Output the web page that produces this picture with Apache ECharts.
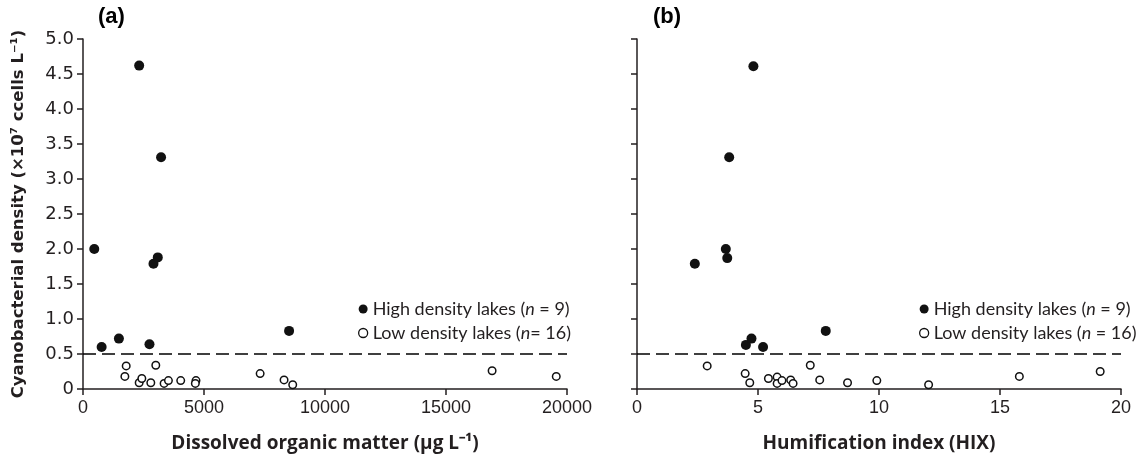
<!DOCTYPE html>
<html>
<head>
<meta charset="utf-8">
<script src="https://cdn.jsdelivr.net/npm/echarts@6/dist/echarts.min.js"></script>
<style>
html,body{margin:0;padding:0;background:#fff;}
#c{width:1142px;height:458px;}
</style>
</head>
<body>
<div id="c"></div>
<script>
// Panel (a): DOM (µg/L) vs density (x10^7 cells/L)
const highDOM = [[466,2.00],[770,0.60],[1483,0.72],[2321,4.62],[2747,0.64],[2912,1.79],[3090,1.88],[3226,3.31],[8516,0.83]];
const lowDOM = [[1785,0.33],[1730,0.18],[3008,0.34],[2321,0.09],[2431,0.15],[2802,0.09],[3351,0.08],[3530,0.12],[4038,0.12],[4669,0.12],[4642,0.08],[7320,0.22],[8308,0.13],[8666,0.06],[16905,0.26],[19556,0.18]];
// Panel (b): HIX vs density
const highHIX = [[2.39,1.79],[3.67,2.00],[3.73,1.87],[3.81,3.31],[4.50,0.63],[4.73,0.72],[4.81,4.61],[5.21,0.60],[7.80,0.83]];
const lowHIX = [[2.90,0.33],[4.47,0.22],[4.66,0.09],[5.43,0.15],[5.79,0.17],[5.79,0.08],[5.99,0.12],[6.35,0.13],[6.45,0.08],[7.16,0.34],[7.55,0.13],[8.70,0.09],[9.91,0.12],[12.05,0.06],[15.80,0.18],[19.14,0.25]];
const threshold = 0.5;
const yTicks = [0,0.5,1.0,1.5,2.0,2.5,3.0,3.5,4.0,4.5,5.0];
const yTickLabels = ['0','0.5','1.0','1.5','2.0','2.5','3.0','3.5','4.0','4.5','5.0'];
const xTicksA = [0,5000,10000,15000,20000];
const xTickLabelsA = ['0','5000','10000','15000','20000'];
const xTicksB = [0,5,10,15,20];
const xTickLabelsB = ['0','5','10','15','20'];
const seriesNames = ['High density lakes','Low density lakes'];
const legendA = {'High density lakes':['High density lakes (','n',' = 9)'],'Low density lakes':['Low density lakes (','n','= 16)']};
const legendB = {'High density lakes':['High density lakes (','n',' = 9)'],'Low density lakes':['Low density lakes (','n',' = 16)']};

const ink = '#231f20';
const chart = echarts.init(document.getElementById('c'));
const axisLine = {show:true, lineStyle:{color:ink, width:1.5}};
const axisTick = {show:true, inside:false, length:6, lineStyle:{color:ink, width:1.5}};
function xLabel(ticks, labels){
  return {color:ink, fontFamily:'Liberation Sans Narrow, Liberation Sans', fontSize:18, margin:10,
    formatter:function(v){ const i = ticks.indexOf(v); return i >= 0 ? labels[i] : ''; }};
}
const rich = {t:{fontFamily:'Lato', fontSize:18, color:ink}, i:{fontFamily:'Lato', fontSize:18, fontStyle:'italic', color:ink}};
function fmt(map){ return function(name){ const p = map[name]; return '{t|'+p[0]+'}{i|'+p[1]+'}{t|'+p[2]+'}'; }; }
const legendData = [
  {name:seriesNames[0], icon:'circle', itemStyle:{color:'#111', borderWidth:0}},
  {name:seriesNames[1], icon:'circle', itemStyle:{color:'#fff', borderColor:'#111', borderWidth:1.3}}
];

const dashLine = {silent:true, symbol:['none','none'], label:{show:false},
  lineStyle:{color:'#000', type:[13,6], width:1.5}, data:[{yAxis:threshold}]};

function highSeries(i, data){
  return {name:seriesNames[0], type:'scatter', xAxisIndex:i, yAxisIndex:i, data:data, symbol:'circle', symbolSize:10,
    itemStyle:{color:'#111', borderColor:'#111', borderWidth:0, opacity:1}, markLine:dashLine, z:3};
}
function lowSeries(i, data){
  return {name:seriesNames[1], type:'scatter', xAxisIndex:i, yAxisIndex:i, data:data, symbol:'circle', symbolSize:7.5,
    itemStyle:{color:'#fff', borderColor:'#111', borderWidth:1.5, opacity:1}, z:2};
}

chart.setOption({
  animation:false,
  backgroundColor:'#fff',
  title:[
    {text:'(a)', left:93, top:1, textStyle:{fontFamily:'Liberation Sans', fontWeight:'bold', fontSize:22, color:'#000'}},
    {text:'(b)', left:648, top:1, textStyle:{fontFamily:'Liberation Sans', fontWeight:'bold', fontSize:22, color:'#000'}}
  ],
  grid:[
    {left:83, top:39, width:484, height:350, containLabel:false, outerBoundsMode:'none'},
    {left:637, top:39, width:484, height:350, containLabel:false, outerBoundsMode:'none'}
  ],
  legend:[
    {orient:'vertical', left:353, top:295, itemGap:6, itemWidth:9, itemHeight:9, data:legendData, formatter:fmt(legendA),
      textStyle:{rich:rich}, selectedMode:false},
    {orient:'vertical', left:914, top:295, itemGap:6, itemWidth:9, itemHeight:9, data:legendData, formatter:fmt(legendB),
      textStyle:{rich:rich}, selectedMode:false}
  ],
  xAxis:[
    {gridIndex:0, type:'value', min:0, max:20000, interval:5000, splitLine:{show:false}, axisLine:axisLine, axisTick:axisTick,
      axisLabel:xLabel(xTicksA, xTickLabelsA), name:'Dissolved organic matter (µg L⁻¹)', nameLocation:'middle', nameGap:45,
      nameTextStyle:{fontFamily:'Open Sans', fontWeight:'bold', fontSize:19, color:ink}},
    {gridIndex:1, type:'value', min:0, max:20, interval:5, splitLine:{show:false}, axisLine:axisLine, axisTick:axisTick,
      axisLabel:xLabel(xTicksB, xTickLabelsB), name:'Humification index (HIX)', nameLocation:'middle', nameGap:45,
      nameTextStyle:{fontFamily:'Open Sans', fontWeight:'bold', fontSize:19, color:ink}}
  ],
  yAxis:[
    {gridIndex:0, type:'value', min:0, max:5, interval:0.5, splitLine:{show:false}, axisLine:axisLine, axisTick:axisTick,
      axisLabel:{color:ink, fontFamily:'DejaVu Sans', fontSize:18, margin:9, formatter:function(v){ return yTickLabels[yTicks.indexOf(Math.round(v*10)/10)]; }},
      name:'Cyanobacterial density (×10⁷ ccells L⁻¹)', nameLocation:'middle', nameGap:56, nameRotate:90,
      nameTextStyle:{fontFamily:'DejaVu Sans', fontWeight:'bold', fontSize:16.5, color:ink}},
    {gridIndex:1, type:'value', min:0, max:5, interval:0.5, splitLine:{show:false}, axisLine:axisLine, axisTick:axisTick,
      axisLabel:{show:false}}
  ],
  series:[
    highSeries(0, highDOM), lowSeries(0, lowDOM),
    highSeries(1, highHIX), lowSeries(1, lowHIX)
  ]
});
</script>
</body>
</html>
